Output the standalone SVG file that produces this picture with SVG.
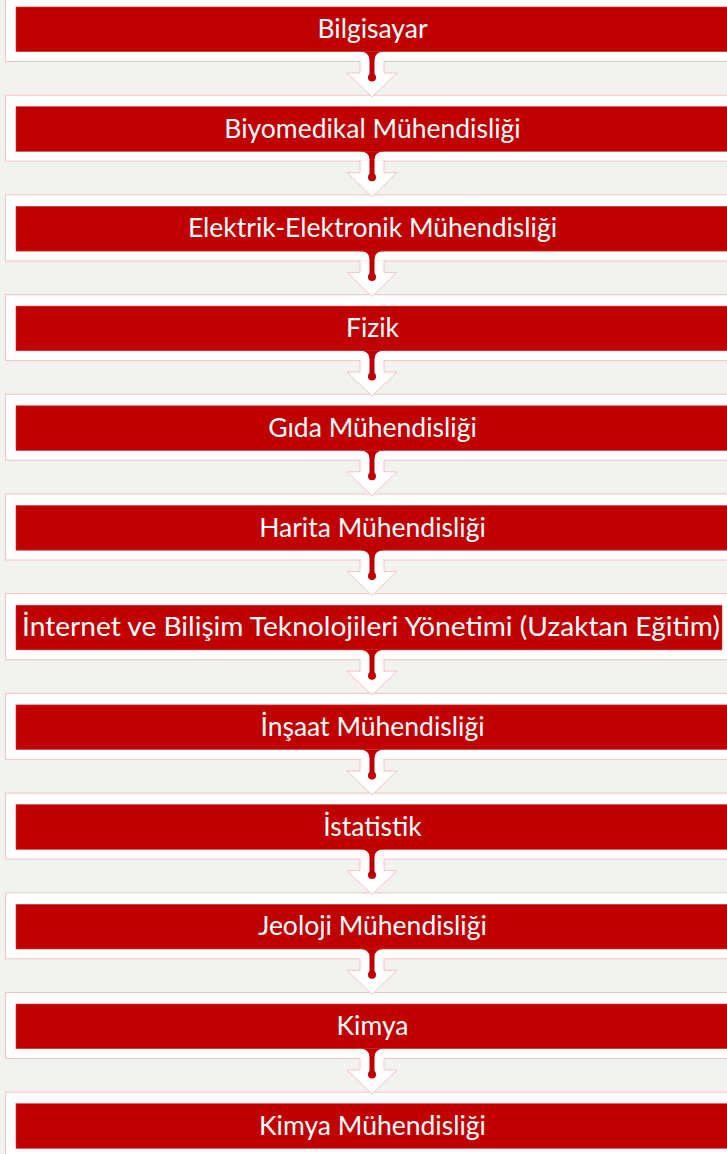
<svg xmlns="http://www.w3.org/2000/svg" width="727" height="1154" viewBox="0 0 727 1154">
<defs>
<style>
.panel{fill:#ffffff;stroke:#f2c4c4;stroke-width:1}
.bar{fill:#c00000;stroke:#d23c3c;stroke-width:0.6}
.lbl{fill:#ffffff;font-family:Lato,"Open Sans","Liberation Sans",sans-serif;font-size:26.5px;text-anchor:middle}
.arr{fill:#ffffff;stroke:#f2c4c4;stroke-width:1}
.stem{fill:#c00000}
</style>
<g id="arrowShape">
<path class="arr" d="M360 54 V66 H347 L372 90 L397 66 H384 V54"/>
<path class="stem" d="M359 44.5 H385 Q374.5 44.5 374.5 53 V70 H369.5 V53 Q369.5 44.5 359 44.5 Z"/>
<circle class="stem" cx="372" cy="70.5" r="4"/>
</g>
</defs>
<rect x="0" y="0" width="727" height="1154" fill="#f2f2f0"/>
<g id="node1" transform="translate(0,7)"><rect class="panel" x="5.5" y="-11.5" width="740" height="66"/><rect class="bar" x="16" y="0" width="720" height="44.7"/><text class="lbl" x="372.5" y="31">Bilgisayar</text></g>
<g id="node2" transform="translate(0,106.7)"><rect class="panel" x="5.5" y="-11.5" width="740" height="66"/><rect class="bar" x="16" y="0" width="720" height="44.7"/><text class="lbl" x="372.5" y="31">Biyomedikal Mühendisliği</text></g>
<g id="node3" transform="translate(0,206.4)"><rect class="panel" x="5.5" y="-11.5" width="740" height="66"/><rect class="bar" x="16" y="0" width="720" height="44.7"/><text class="lbl" x="372.5" y="31">Elektrik-Elektronik Mühendisliği</text></g>
<g id="node4" transform="translate(0,306.1)"><rect class="panel" x="5.5" y="-11.5" width="740" height="66"/><rect class="bar" x="16" y="0" width="720" height="44.7"/><text class="lbl" x="372.5" y="31">Fizik</text></g>
<g id="node5" transform="translate(0,405.8)"><rect class="panel" x="5.5" y="-11.5" width="740" height="66"/><rect class="bar" x="16" y="0" width="720" height="44.7"/><text class="lbl" x="372.5" y="31">Gıda Mühendisliği</text></g>
<g id="node6" transform="translate(0,505.5)"><rect class="panel" x="5.5" y="-11.5" width="740" height="66"/><rect class="bar" x="16" y="0" width="720" height="44.7"/><text class="lbl" x="372.5" y="31">Harita Mühendisliği</text></g>
<g id="node7" transform="translate(0,605.2)"><rect class="panel" x="5.5" y="-11.5" width="740" height="66"/><rect class="bar" x="16" y="0" width="706" height="44.7"/><text class="lbl" x="371" y="31" textLength="698" lengthAdjust="spacingAndGlyphs">İnternet ve Bilişim Teknolojileri Yönetimi (Uzaktan Eğitim)</text></g>
<g id="node8" transform="translate(0,704.9)"><rect class="panel" x="5.5" y="-11.5" width="740" height="66"/><rect class="bar" x="16" y="0" width="720" height="44.7"/><text class="lbl" x="372.5" y="31">İnşaat Mühendisliği</text></g>
<g id="node9" transform="translate(0,804.6)"><rect class="panel" x="5.5" y="-11.5" width="740" height="66"/><rect class="bar" x="16" y="0" width="720" height="44.7"/><text class="lbl" x="372.5" y="31">İstatistik</text></g>
<g id="node10" transform="translate(0,904.3)"><rect class="panel" x="5.5" y="-11.5" width="740" height="66"/><rect class="bar" x="16" y="0" width="720" height="44.7"/><text class="lbl" x="372.5" y="31">Jeoloji Mühendisliği</text></g>
<g id="node11" transform="translate(0,1004)"><rect class="panel" x="5.5" y="-11.5" width="740" height="66"/><rect class="bar" x="16" y="0" width="720" height="44.7"/><text class="lbl" x="372.5" y="31">Kimya</text></g>
<g id="node12" transform="translate(0,1103.7)"><rect class="panel" x="5.5" y="-11.5" width="740" height="66"/><rect class="bar" x="16" y="0" width="720" height="44.7"/><text class="lbl" x="372.5" y="31">Kimya Mühendisliği</text></g>
<g id="connectors">
<use href="#arrowShape" transform="translate(0,7)"/>
<use href="#arrowShape" transform="translate(0,106.7)"/>
<use href="#arrowShape" transform="translate(0,206.4)"/>
<use href="#arrowShape" transform="translate(0,306.1)"/>
<use href="#arrowShape" transform="translate(0,405.8)"/>
<use href="#arrowShape" transform="translate(0,505.5)"/>
<use href="#arrowShape" transform="translate(0,605.2)"/>
<use href="#arrowShape" transform="translate(0,704.9)"/>
<use href="#arrowShape" transform="translate(0,804.6)"/>
<use href="#arrowShape" transform="translate(0,904.3)"/>
<use href="#arrowShape" transform="translate(0,1004)"/>
</g>
</svg>
